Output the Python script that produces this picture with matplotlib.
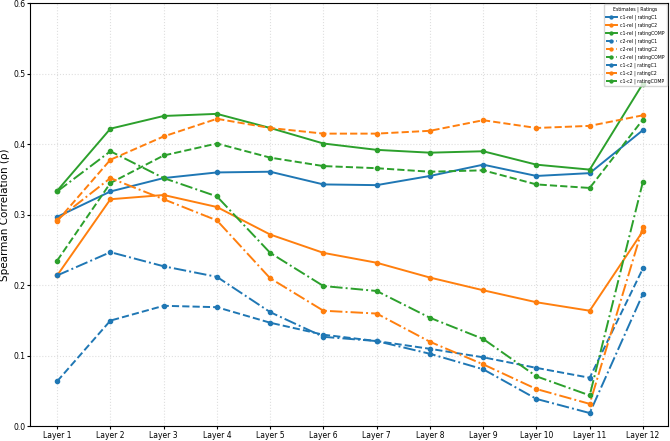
import matplotlib.pyplot as plt

layers = ['Layer %d' % i for i in range(1, 13)]

c1rel_C1 = [0.297, 0.333, 0.352, 0.360, 0.361, 0.343, 0.342, 0.355, 0.371, 0.355, 0.359, 0.420]
c1rel_C2 = [0.214, 0.322, 0.328, 0.311, 0.272, 0.246, 0.232, 0.211, 0.193, 0.176, 0.164, 0.277]
c1rel_COMP = [0.334, 0.422, 0.440, 0.443, 0.423, 0.401, 0.392, 0.388, 0.390, 0.371, 0.364, 0.486]

c2rel_C1 = [0.064, 0.150, 0.171, 0.169, 0.147, 0.130, 0.121, 0.110, 0.098, 0.083, 0.069, 0.224]
c2rel_C2 = [0.291, 0.378, 0.411, 0.436, 0.423, 0.415, 0.415, 0.419, 0.434, 0.423, 0.426, 0.441]
c2rel_COMP = [0.235, 0.345, 0.384, 0.401, 0.381, 0.369, 0.366, 0.361, 0.363, 0.343, 0.338, 0.435]

c1c2_C1 = [0.214, 0.247, 0.227, 0.212, 0.162, 0.127, 0.121, 0.103, 0.081, 0.039, 0.019, 0.188]
c1c2_C2 = [0.293, 0.352, 0.322, 0.292, 0.210, 0.164, 0.160, 0.120, 0.088, 0.053, 0.032, 0.283]
c1c2_COMP = [0.333, 0.390, 0.352, 0.326, 0.246, 0.199, 0.192, 0.154, 0.124, 0.071, 0.044, 0.347]

series = [
    ('c1-rel | ratingC1', c1rel_C1, 'C0', '-'),
    ('c1-rel | ratingC2', c1rel_C2, 'C1', '-'),
    ('c1-rel | ratingCOMP', c1rel_COMP, 'C2', '-'),
    ('c2-rel | ratingC1', c2rel_C1, 'C0', '--'),
    ('c2-rel | ratingC2', c2rel_C2, 'C1', '--'),
    ('c2-rel | ratingCOMP', c2rel_COMP, 'C2', '--'),
    ('c1-c2 | ratingC1', c1c2_C1, 'C0', '-.'),
    ('c1-c2 | ratingC2', c1c2_C2, 'C1', '-.'),
    ('c1-c2 | ratingCOMP', c1c2_COMP, 'C2', '-.'),
]

fig, ax = plt.subplots(figsize=(6.7, 4.41), dpi=100)
x = list(range(len(layers)))
for label, vals, color, ls in series:
    ax.plot(x, vals, color=color, linestyle=ls, marker='o', markersize=3,
            linewidth=1.4, label=label)

ax.set_xticks(x)
ax.set_xticklabels(layers)
ax.tick_params(axis='both', labelsize=5.5, length=2, pad=1.5)
ax.set_xlim(-0.507, 11.47)
ax.set_ylim(0, 0.6)
ax.set_ylabel('Spearman Correlation (ρ)', fontsize=7.5, labelpad=2)
ax.grid(True, linestyle=':', alpha=0.4)
ax.legend(title='Estimates | Ratings', loc='upper right', fontsize=3.3,
          title_fontsize=3.3, markerscale=0.7, borderaxespad=0.3,
          handlelength=2.4, labelspacing=0.55)
fig.subplots_adjust(left=0.045, right=0.997, top=0.993, bottom=0.033)
fig.savefig('out.png', dpi=100)
